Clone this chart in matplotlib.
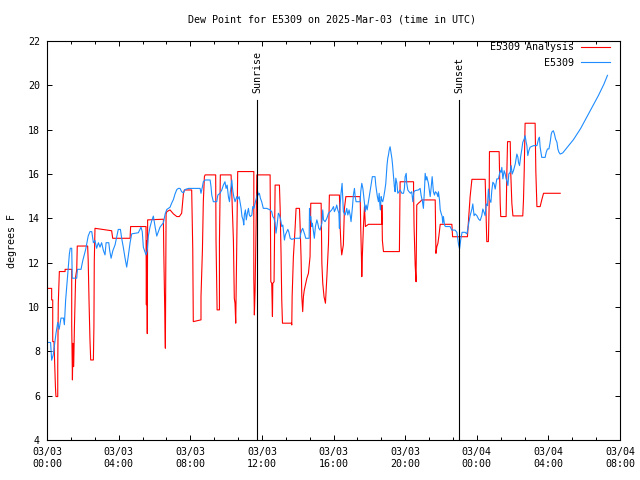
import matplotlib
matplotlib.use('Agg')
import matplotlib.pyplot as plt
from matplotlib.ticker import MultipleLocator

plt.rcParams['font.family'] = ['DejaVu Sans Mono']
plt.rcParams['font.size'] = 7.2

# hours since 2025-03-03 00:00 UTC
analysis_t = [0.0, 0.26, 0.26, 0.32, 0.32, 0.39, 0.43, 0.47, 0.5, 0.6, 0.6, 0.63, 0.69, 1.01, 1.01,
              1.38, 1.38, 1.42, 1.45, 1.49, 1.53, 1.6, 1.66, 1.69, 2.27, 2.3, 2.35, 2.4, 2.44, 2.59,
              2.62, 2.64, 2.68, 3.61, 3.67, 4.64, 4.67, 5.53, 5.55, 5.57, 5.6, 5.62, 6.5, 6.52, 6.55,
              6.58, 6.61, 6.65, 6.69, 6.87, 7.06, 7.25, 7.39, 7.52, 7.62, 7.67, 8.08, 8.14, 8.17, 8.6,
              8.6, 8.68, 8.73, 8.79, 8.83, 9.42, 9.44, 9.5, 9.63, 9.63, 9.68, 10.28, 10.32, 10.41, 10.46,
              10.5, 10.54, 10.58, 10.61, 10.65, 11.55, 11.55, 11.58, 11.62, 11.66, 11.72, 12.46, 12.5,
              12.55, 12.59, 12.61, 12.68, 12.74, 12.98, 13.02, 13.07, 13.11, 13.15, 13.65, 13.67, 13.69,
              13.76, 13.85, 13.91, 14.1, 14.13, 14.19, 14.23, 14.28, 14.32, 14.37, 14.41, 14.51, 14.6,
              14.69, 14.73, 15.31, 15.35, 15.4, 15.47, 15.55, 15.63, 15.72, 15.77, 16.33, 16.37, 16.42,
              16.46, 16.55, 16.61, 16.69, 17.49, 17.52, 17.56, 17.58, 17.61, 17.67, 17.73, 17.78, 17.95,
              18.7, 18.7, 18.73, 18.79, 19.68, 19.7, 19.72, 20.47, 20.47, 20.5, 20.56, 20.61, 20.65,
              20.74, 20.84, 20.93, 21.68, 21.7, 21.72, 21.77, 21.83, 21.88, 21.96, 22.61, 22.65, 23.48,
              23.52, 23.56, 23.63, 23.69, 23.73, 24.47, 24.51, 24.56, 24.65, 24.69, 24.71, 25.25, 25.27,
              25.31, 25.34, 25.64, 25.68, 25.72, 25.87, 25.9, 25.96, 26.02, 26.57, 26.61, 26.65, 26.7,
              27.26, 27.3, 27.36, 27.54, 27.63, 27.73, 28.66]
analysis_v = [10.84, 10.84, 10.32, 10.32, 8.44, 8.44, 7.46, 6.41, 5.96, 5.96, 7.39, 10.17, 11.6, 11.6, 11.7,
              11.7, 9.19, 6.71, 8.36, 7.31, 9.04, 11.37, 11.67, 12.75, 12.75, 12.12, 10.17, 8.51, 7.61, 7.61,
              9.11, 12.05, 13.55, 13.44, 13.1, 13.1, 13.63, 13.63, 10.1, 13.0, 8.8, 13.93, 13.96, 12.6, 11.22,
              9.64, 8.14, 14.2, 14.3, 14.38, 14.2, 14.08, 14.08, 14.23, 15.13, 15.28, 15.28, 12.6, 9.34, 9.42,
              10.47, 12.57, 14.75, 15.88, 15.96, 15.96, 12.95, 9.87, 9.87, 12.95, 15.96, 15.96, 15.13, 13.02, 10.39,
              10.17, 9.27, 11.9, 13.55, 16.11, 16.11, 11.3, 9.64, 10.7, 12.9, 15.96, 15.96, 11.14,
              11.07, 9.57, 11.07, 11.14, 15.5, 15.5, 14.45, 12.42, 10.32, 9.27, 9.27, 9.19, 10.47,
              12.27, 13.47, 14.45, 14.45, 13.78, 12.2, 10.47, 9.79, 10.47, 10.77, 10.92, 11.29, 11.52,
              12.27, 14.68, 14.68, 11.97, 11.07, 10.47, 10.17, 11.37, 12.87, 15.05, 15.05, 13.63, 12.72,
              12.35, 12.8, 14.45, 14.98, 14.98, 13.6, 12.27, 11.37, 12.27, 13.6, 14.53, 13.63, 13.73,
              13.73, 14.6, 13.0, 12.5, 12.5, 14.0, 15.65, 15.65, 15.3, 13.63, 11.9, 11.14, 14.6,
              14.68, 14.75, 14.83, 14.83, 13.7, 12.42, 12.72, 12.87, 13.17, 13.73, 13.73, 13.17, 13.17,
              13.7, 14.15, 14.98, 15.43, 15.76, 15.76, 14.53, 12.95, 12.95, 14.53, 17.01, 17.01, 16.18,
              14.68, 14.08, 14.08, 16.03, 17.46, 17.46, 16.03, 14.68, 14.11, 14.11, 14.83, 16.11, 18.29,
              18.29, 16.11, 14.53, 14.53, 14.83, 15.13, 15.13]

obs_t = [0.0, 0.2, 0.26, 0.35, 0.5, 0.6, 0.68, 0.78, 0.92, 0.97, 1.04, 1.16, 1.25, 1.3, 1.38, 1.41, 1.66,
         1.7, 1.9, 2.0, 2.16, 2.3, 2.4, 2.5, 2.59, 2.68, 2.77, 2.87, 2.96, 3.05, 3.15, 3.24, 3.3, 3.45,
         3.5, 3.58, 3.68, 3.8, 3.98, 4.1, 4.17, 4.26, 4.36, 4.45, 4.54, 4.64, 4.73, 5.1, 5.25, 5.32,
         5.38, 5.53, 5.6, 5.66, 5.75, 5.85, 5.94, 6.04, 6.13, 6.22, 6.31, 6.5, 6.6, 6.69, 6.87, 6.97,
         7.06, 7.15, 7.25, 7.34, 7.43, 7.52, 7.62, 7.71, 7.9, 8.55, 8.6, 8.68, 8.73, 8.83, 9.11, 9.16,
         9.2, 9.29, 9.48, 9.54, 9.66, 9.76, 9.85, 9.94, 10.0, 10.06, 10.13, 10.19, 10.24, 10.32, 10.37,
         10.43, 10.5, 10.6, 10.65, 10.73, 10.78, 10.84, 10.89, 10.95, 10.99, 11.02, 11.08, 11.13, 11.19,
         11.25, 11.3, 11.36, 11.44, 11.49, 11.55, 11.62, 11.72, 11.77, 11.8, 11.86, 11.92, 11.99, 12.08,
         12.27, 12.46, 12.55, 12.61, 12.68, 12.74, 12.79, 12.85, 12.92, 12.98, 13.05, 13.11, 13.17, 13.2,
         13.26, 13.31, 13.39, 13.45, 13.5, 13.58, 13.67, 13.85, 14.13, 14.17, 14.23, 14.28, 14.34, 14.4,
         14.45, 14.64, 14.66, 14.69, 14.73, 14.79, 14.82, 14.88, 14.93, 14.99, 15.07, 15.12, 15.18, 15.25,
         15.35, 15.4, 15.44, 15.53, 15.63, 15.72, 15.81, 15.9, 16.0, 16.05, 16.13, 16.18, 16.24, 16.3,
         16.33, 16.37, 16.42, 16.48, 16.52, 16.55, 16.65, 16.74, 16.8, 16.87, 16.93, 16.98, 17.06, 17.11,
         17.17, 17.21, 17.26, 17.49, 17.52, 17.58, 17.64, 17.69, 17.73, 17.77, 17.82, 17.88, 17.95, 18.01,
         18.06, 18.12, 18.17, 18.32, 18.36, 18.42, 18.45, 18.51, 18.55, 18.59, 18.62, 18.66, 18.7, 18.75,
         18.81, 18.87, 18.92, 18.96, 18.99, 19.03, 19.07, 19.11, 19.16, 19.2, 19.26, 19.29, 19.33, 19.37,
         19.4, 19.44, 19.48, 19.54, 19.59, 19.66, 19.72, 19.82, 19.91, 19.96, 20.0, 20.06, 20.09, 20.15,
         20.22, 20.3, 20.37, 20.43, 20.49, 20.56, 20.74, 20.84, 20.89, 20.97, 21.02, 21.08, 21.12, 21.17,
         21.21, 21.3, 21.4, 21.45, 21.51, 21.58, 21.64, 21.69, 21.77, 21.83, 21.86, 21.92, 21.96, 22.01,
         22.07, 22.1, 22.14, 22.2, 22.25, 22.51, 22.61, 22.79, 22.89, 22.98, 23.04, 23.11, 23.18, 23.35,
         23.45, 23.5, 23.56, 23.63, 23.73, 23.78, 23.85, 23.91, 24.01, 24.1, 24.19, 24.28, 24.34, 24.41,
         24.47, 24.53, 24.6, 24.65, 24.71, 24.79, 24.84, 24.9, 24.97, 25.03, 25.12, 25.21, 25.31, 25.36,
         25.4, 25.46, 25.53, 25.59, 25.64, 25.68, 25.74, 25.79, 25.87, 25.92, 25.98, 26.05, 26.15, 26.24,
         26.3, 26.33, 26.39, 26.46, 26.52, 26.57, 26.65, 26.7, 26.76, 26.8, 26.85, 26.91, 26.98, 27.17,
         27.36, 27.45, 27.5, 27.54, 27.63, 27.82, 27.88, 27.95, 28.03, 28.1, 28.16, 28.21, 28.28, 28.34,
         28.4, 28.48, 28.53, 28.59, 28.66, 28.8, 29.0, 29.2, 29.4, 29.6, 29.8, 30.0, 30.2, 30.4,
         30.6, 30.8, 30.95, 31.1, 31.3]
obs_v = [8.4, 8.4, 7.6, 7.85, 8.8, 9.3, 9.0, 9.5, 9.5, 9.2, 10.3, 11.5, 12.4, 12.65, 12.65, 11.3, 11.3,
         11.7, 11.7, 12.1, 12.6, 13.2, 13.4, 13.4, 12.9, 13.0, 12.65, 12.9, 12.7, 12.9, 12.55, 12.35, 12.9, 12.9,
         12.55, 12.2, 12.55, 12.8, 13.5, 13.5, 13.1, 12.7, 12.2, 11.8, 12.3, 12.9, 13.3, 13.35, 13.6, 13.4,
         12.7, 12.35, 12.55, 13.2, 13.6, 13.9, 14.1, 13.6, 13.2, 13.4, 13.6, 13.8, 14.2, 14.4, 14.5, 14.7,
         14.85, 15.1, 15.3, 15.35, 15.35, 15.2, 15.15, 15.3, 15.35, 15.35, 15.13, 15.43, 15.65, 15.73, 15.73, 15.43,
         15.05, 14.75, 14.75, 15.05, 15.13, 15.28, 15.5, 15.65, 15.35, 15.5, 14.98, 14.75, 15.2, 15.73, 15.28,
         14.98, 14.75, 14.98, 14.86, 14.98, 14.75, 14.45, 14.08, 13.93, 13.7, 14.15, 14.38, 13.93, 14.23,
         14.45, 14.15, 14.08, 14.15, 14.53, 14.45, 14.68, 14.98, 15.2, 15.05, 15.13, 14.9, 14.75, 14.45,
         14.45, 14.38, 14.3, 14.08, 14.0, 13.78, 13.33, 13.7, 14.23, 14.15, 13.93, 13.63, 13.7, 13.47,
         13.02, 13.25, 13.4, 13.5, 13.4, 13.1, 13.05, 13.1, 13.1, 13.32, 13.47, 13.55, 13.4, 13.25,
         13.1, 13.1, 14.45, 13.93, 14.08, 13.63, 13.78, 13.4, 13.1, 13.63, 13.93, 13.78, 13.55, 13.47,
         13.78, 14.38, 13.93, 13.85, 14.0, 14.23, 14.3, 14.38, 14.53, 14.3, 14.45, 14.6, 14.38, 14.23,
         13.55, 14.6, 15.13, 15.58, 14.83, 14.3, 14.15, 14.45, 14.15, 14.38, 14.15, 13.85, 14.53, 15.05,
         15.35, 14.98, 14.75, 14.75, 15.2, 15.58, 15.35, 14.98, 14.68, 14.3, 14.6, 14.38, 14.75, 15.05,
         15.35, 15.65, 15.88, 15.88, 15.5, 15.13, 14.98, 14.75, 15.13, 14.6, 14.38, 14.98, 14.83, 14.75,
         14.98, 15.28, 15.58, 16.03, 16.41, 16.71, 16.86, 17.08, 17.23, 17.01, 16.71, 16.48, 16.11, 15.73,
         15.43, 15.2, 15.81, 15.58, 15.13, 15.2, 15.28, 15.13, 15.13, 15.35, 15.88, 16.03, 15.58, 15.28,
         15.2, 15.13, 15.2, 14.75, 15.2, 15.25, 15.28, 15.35, 15.05, 14.75, 14.45, 15.28, 16.03, 15.73,
         15.88, 15.58, 14.98, 15.35, 15.88, 15.2, 15.05, 15.2, 15.13, 14.98, 15.2, 14.83, 14.38, 14.23,
         14.08, 13.78, 14.08, 13.7, 13.63, 13.63, 13.47, 13.47, 13.37, 12.84, 12.62, 13.07, 13.37, 13.37,
         13.3, 13.52, 13.82, 14.12, 14.42, 14.65, 14.12, 14.2, 14.12, 13.97, 13.9, 14.12, 14.42, 14.27,
         14.12, 14.65, 14.57, 15.32, 14.87, 14.72, 15.25, 15.63, 15.55, 15.32, 15.78, 15.78, 16.15, 16.08,
         16.3, 15.78, 16.15, 16.0, 15.78, 15.7, 15.48, 16.0, 16.08, 16.38, 16.0, 16.15, 16.45, 16.9,
         16.75, 16.53, 16.38, 16.83, 17.13, 17.43, 17.58, 17.73, 17.43, 17.28, 16.83, 17.05, 17.21, 17.28,
         17.28, 17.58, 17.66, 17.21, 16.75, 16.75, 16.98, 17.13, 17.13, 17.43, 17.8, 17.91, 17.95, 17.8,
         17.58, 17.43, 17.13, 16.98, 16.9, 16.95, 17.15, 17.35, 17.55, 17.8, 18.05, 18.35, 18.65, 18.95,
         19.25, 19.55, 19.8, 20.05, 20.45]

sun_t = [11.73, 23.02]
sun_names = ['Sunrise', 'Sunset']

tick_hours = [0, 4, 8, 12, 16, 20, 24, 28, 32]
tick_labels = ['03/03\n00:00', '03/03\n04:00', '03/03\n08:00', '03/03\n12:00', '03/03\n16:00',
               '03/03\n20:00', '03/04\n00:00', '03/04\n04:00', '03/04\n08:00']

fig = plt.figure(figsize=(6.4, 4.8), dpi=100)
ax = fig.add_axes([47 / 640, 40 / 480, 573 / 640, 399 / 480])

ax.plot(analysis_t, analysis_v, color='#ff0000', lw=0.8, label='E5309 Analysis')
ax.plot(obs_t, obs_v, color='#1e8cff', lw=0.8, label='E5309')

for t, name in zip(sun_t, sun_names):
    ax.plot([t, t], [4, 19.35], color='black', lw=0.8)
    ax.text(t, 19.65, name, rotation=90, ha='center', va='bottom')

ax.set_xlim(0, 32)
ax.set_ylim(4, 22)
ax.set_xticks(tick_hours)
ax.set_xticklabels(tick_labels)
ax.xaxis.set_minor_locator(MultipleLocator(4 / 3))
ax.set_yticks(range(4, 23, 2))
ax.tick_params(which='major', direction='in', top=True, right=True, length=3.5, width=0.7, pad=5)
ax.tick_params(which='minor', direction='in', top=True, right=True, length=2, width=0.7)
for s in ax.spines.values():
    s.set_linewidth(0.8)

ax.set_ylabel('degrees F', labelpad=8)
fig.text(332 / 640, 1 - 19 / 480, 'Dew Point for E5309 on 2025-Mar-03 (time in UTC)',
         ha='center', va='center')

ax.legend(loc='upper right', bbox_to_anchor=(610 / 640, 1 - 42 / 480), bbox_transform=fig.transFigure,
          frameon=False, markerfirst=False, borderpad=0, borderaxespad=0, handlelength=2.9,
          handletextpad=0.7, labelspacing=0.55)

fig.savefig('out.png', dpi=100)
